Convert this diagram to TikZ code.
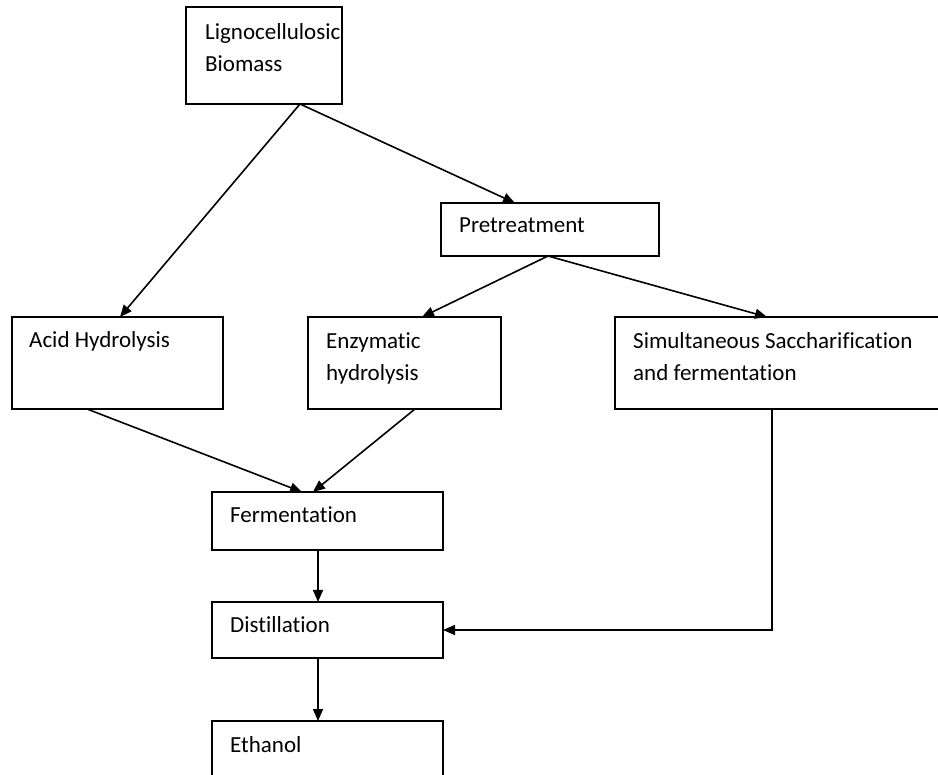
\documentclass[tikz,border=0pt]{standalone}
\usepackage{fontspec}
\setmainfont{Carlito}[Ligatures={NoCommon}]
\usetikzlibrary{arrows.meta}
\begin{document}
\begin{tikzpicture}[x=1pt,y=-1pt,
  boxn/.style={draw=black, line width=1.8pt, inner sep=0pt, outer sep=0pt, anchor=north west},
  lbl/.style={anchor=base west, inner sep=0pt, align=left, font=\fontsize{23}{32}\selectfont},
  arr/.style={draw=black, line width=1.6pt, -{Triangle[length=12pt,width=10pt]}}]
\useasboundingbox (0,0) rectangle (938,775);
\clip (0,0) rectangle (938,775);
% boxes
\node[boxn, minimum width=156pt, minimum height=97pt] (bio) at (186,7) {};
\node[boxn, minimum width=218pt, minimum height=53pt] (pre) at (441,203) {};
\node[boxn, minimum width=211pt, minimum height=92pt] (acid) at (12,317) {};
\node[boxn, minimum width=193pt, minimum height=92pt] (enz) at (308,317) {};
\node[boxn, minimum width=340pt, minimum height=92pt] (ssf) at (615,317) {};
\node[boxn, minimum width=231pt, minimum height=58pt] (fer) at (212,492) {};
\node[boxn, minimum width=231pt, minimum height=56pt] (dis) at (212,602) {};
\node[boxn, minimum width=231pt, minimum height=80pt] (eth) at (212,721) {};
% labels (base anchor = baseline of last line)
\node[lbl] (tbio) at (205,72) {Lignocellulosic\\Biomass};
\node[lbl] (tpre) at (459,233) {Pretreatment};
\node[lbl] (tacid) at (29,348) {Acid Hydrolysis};
\node[lbl] (tenz) at (326,381) {Enzymatic\\hydrolysis};
\node[lbl] (tssf) at (633,381) {Simultaneous Saccharification\\and fermentation};
\node[lbl] (tfer) at (230,523) {Fermentation};
\node[lbl] (tdis) at (230,632) {Distillation};
\node[lbl] (teth) at (230,752) {Ethanol};
% connectors
\draw[arr] ([xshift=114pt]bio.south west) -- ([xshift=108pt]acid.north west);
\draw[arr] ([xshift=114pt]bio.south west) -- ([xshift=74pt]pre.north west);
\draw[arr] ([xshift=107pt]pre.south west) -- ([xshift=114pt]enz.north west);
\draw[arr] ([xshift=107pt]pre.south west) -- ([xshift=152pt]ssf.north west);
\draw[arr] ([xshift=75pt]acid.south west) -- ([xshift=90pt]fer.north west);
\draw[arr] ([xshift=107pt]enz.south west) -- ([xshift=101pt]fer.north west);
\draw[arr] ([xshift=106pt]fer.south west) -- ([xshift=106pt]dis.north west);
\draw[arr] ([xshift=106pt]dis.south west) -- ([xshift=106pt]eth.north west);
\draw[arr] ([xshift=157pt]ssf.south west) |- (dis.east);
\end{tikzpicture}
\end{document}
